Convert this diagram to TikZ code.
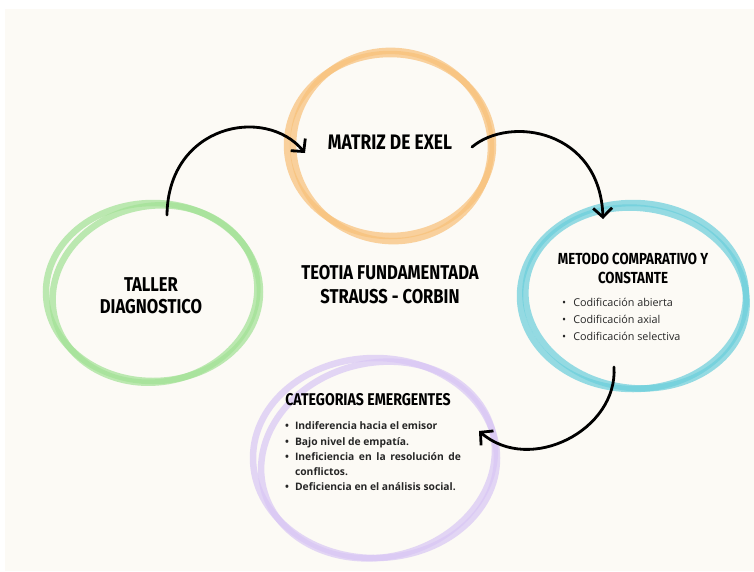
\documentclass[tikz,border=0pt]{standalone}
\usepackage{fontspec}
\setmainfont{Open Sans}
\newfontfamily\handfont[FakeStretch=0.83]{Fira Sans}
\usetikzlibrary{arrows.meta}
\definecolor{cream}{HTML}{FCFAF5}
\definecolor{orng}{HTML}{F8C17A}
\definecolor{grn}{HTML}{A3E296}
\definecolor{blu}{HTML}{6DCFDC}
\definecolor{purp}{HTML}{D9C7F4}
\tikzset{
  ring/.style={line width=6.5pt, opacity=0.72},
  title/.style={font=\handfont\bfseries, align=center, text=black, inner sep=0pt},
  body/.style={font=\fontsize{10.8}{16.8}\selectfont, align=left, text=black!85, inner sep=0pt},
  arr/.style={line width=2.8pt, line cap=round, -{Straight Barb[length=9pt,width=19pt,line width=2.8pt]}},
}
\begin{document}
\begin{tikzpicture}[x=1pt,y=-1pt]
\fill[white] (0,0) rectangle (754,571);
\fill[cream] (5,9) rectangle (754,571);
\useasboundingbox (0,0) rectangle (754,571);

% rings
\draw[ring, orng] (390,145) ellipse [x radius=103, y radius=91];
\draw[ring, orng, rotate around={-10:(392,146)}] (392,146) ellipse [x radius=99, y radius=95];
\draw[ring, grn] (153,292) ellipse [x radius=107, y radius=89];
\draw[ring, grn, rotate around={12:(155,294)}] (155,294) ellipse [x radius=103, y radius=88];
\draw[ring, blu] (633,296) ellipse [x radius=113, y radius=93];
\draw[ring, blu, rotate around={-8:(636,298)}] (636,298) ellipse [x radius=111, y radius=90];
\draw[ring, purp] (375,458) ellipse [x radius=122, y radius=100];
\draw[ring, purp, rotate around={14:(378,460)}] (378,460) ellipse [x radius=118, y radius=97];

% titles
\node[title, font=\handfont\bfseries\fontsize{21}{24}\selectfont] (matriz) at (390,142) {MATRIZ DE EXEL};
\node[title, font=\handfont\bfseries\fontsize{20}{22}\selectfont] (taller) at (151,296) {TALLER\\DIAGNOSTICO};
\node[title, font=\handfont\bfseries\fontsize{20}{24}\selectfont] (teoria) at (390,285) {TEOTIA FUNDAMENTADA\\STRAUSS - CORBIN};
\node[title, font=\handfont\bfseries\fontsize{16}{19}\selectfont] (metodo) at (633,268) {METODO COMPARATIVO Y\\CONSTANTE};
\node[title, font=\handfont\bfseries\fontsize{17}{20}\selectfont] (categ) at (368,400) {CATEGORIAS EMERGENTES};

% bullet lists
\node[body, anchor=north west] (metlist) at (562,295) {%
\begin{tabular}{@{}l@{\hspace{7pt}}l@{}}
\textbullet & Codificación abierta\\
\textbullet & Codificación axial\\
\textbullet & Codificación selectiva
\end{tabular}};
\node[body, anchor=north west, font=\bfseries\fontsize{10.3}{15.2}\selectfont] (catlist) at (285,419) {%
\begin{tabular}{@{}l@{\hspace{6pt}}l@{}}
\textbullet & Indiferencia hacia el emisor\\
\textbullet & Bajo nivel de empatía.\\
\textbullet & \makebox[166pt][s]{Ineficiencia en la resolución de}\\
 & conflictos.\\
\textbullet & Deficiencia en el análisis social.
\end{tabular}};

% arrows
\coordinate (a1s) at (167,215);
\coordinate (a1e) at (305,153);
\coordinate (a2s) at (472,147);
\coordinate (a2e) at (603,219);
\coordinate (a3s) at (614,367);
\coordinate (a3e) at (479,431);
\draw[arr] (a1s) .. controls (168,125) and (265,105) .. (a1e);
\draw[arr] (a2s) .. controls (510,115) and (600,130) .. (a2e);
\draw[arr] (a3s) .. controls (618,430) and (530,475) .. (a3e);
\end{tikzpicture}
\end{document}
